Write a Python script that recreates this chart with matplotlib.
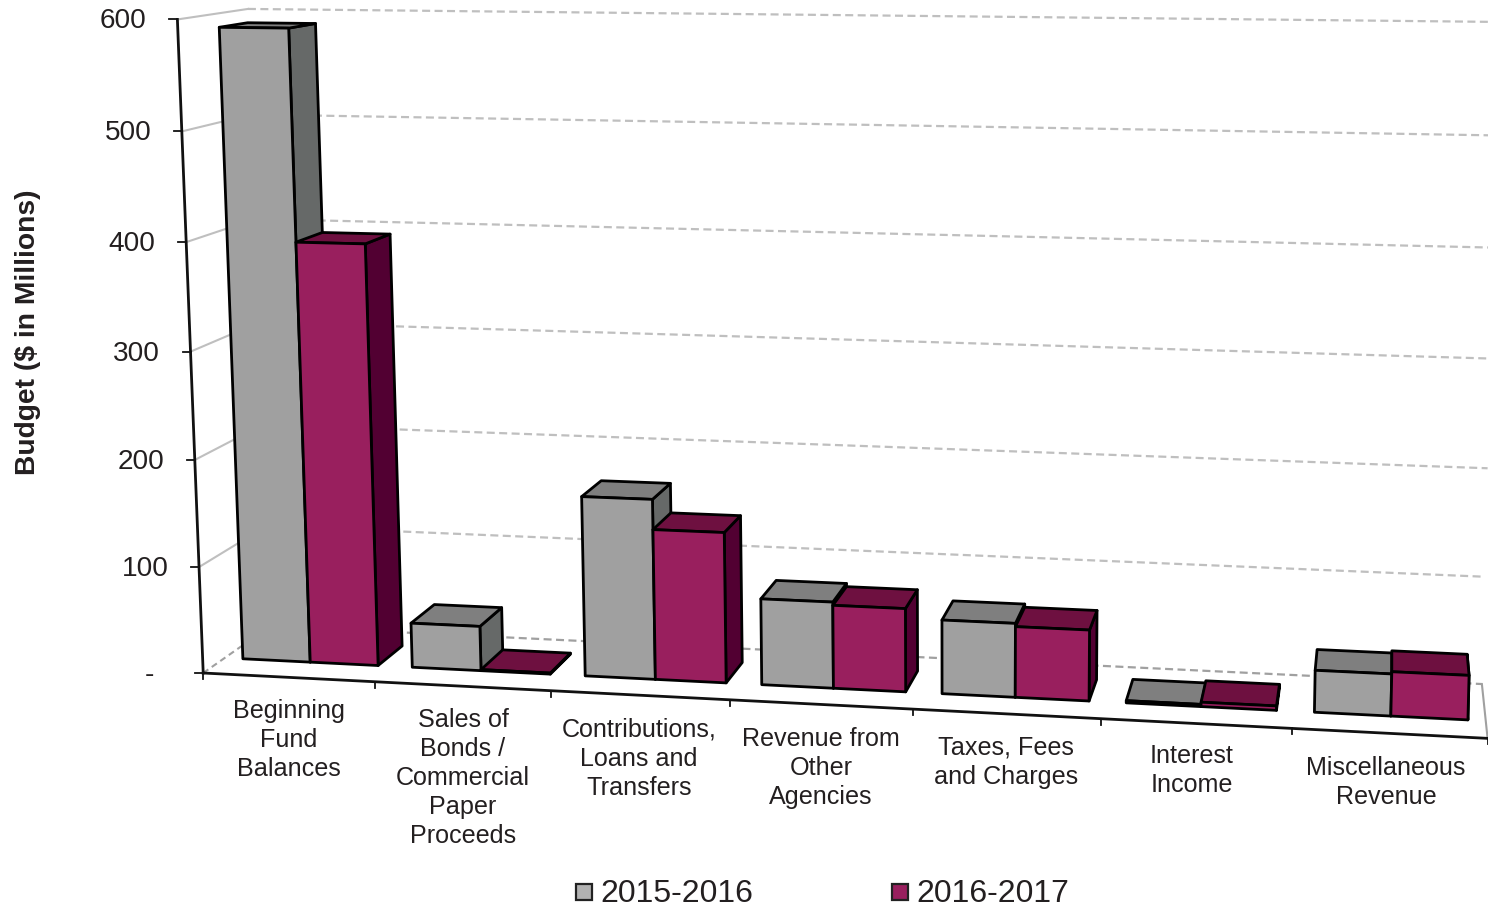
import matplotlib
matplotlib.use('Agg')
from matplotlib import pyplot as plt
from matplotlib.patches import Polygon, Rectangle
import numpy as np

plt.rcParams['font.family'] = ['Liberation Sans', 'DejaVu Sans']

categories = ['Beginning\nFund\nBalances', 'Sales of\nBonds /\nCommercial\nPaper\nProceeds',
              'Contributions,\nLoans and\nTransfers', 'Revenue from\nOther\nAgencies',
              'Taxes, Fees\nand Charges', 'Interest\nIncome', 'Miscellaneous\nRevenue']
series_names = ['2015-2016', '2016-2017']
values_2015 = [590, 42, 168, 80, 68, 2, 38]
values_2016 = [395, 1, 140, 77, 65, 4, 40]
y_ticks = [0, 100, 200, 300, 400, 500, 600]
y_tick_labels = ['-', '100', '200', '300', '400', '500', '600']

# (x category, value, depth) -> pixel, fitted to the chart frame
frame_points = [
    (0, 0, 0, 205, 672), (1, 0, 0, 376, 682), (2, 0, 0, 551, 691), (3, 0, 0, 730, 700),
    (4, 0, 0, 913, 710), (5, 0, 0, 1101, 719), (6, 0, 0, 1291, 729), (7, 0, 0, 1488, 738),
    (0, 100, 0, 199, 566), (0, 400, 0, 186, 242), (0, 500, 0, 181, 131), (0, 600, 0, 176, 20),
    (0, 0, 1, 268, 627), (7, 0, 1, 1482, 683), (0, 600, 1, 250, 9),
]


def fit_projection(points):
    rows, rhs = [], []
    for x, v, d, px, py in points:
        rows.append([x, v, d, 1, 0, 0, 0, 0, -px * x, -px * v, -px * d])
        rhs.append(px)
        rows.append([0, 0, 0, 0, x, v, d, 1, -py * x, -py * v, -py * d])
        rhs.append(py)
    sol = np.linalg.lstsq(np.array(rows, float), np.array(rhs, float), rcond=None)[0]
    return np.append(sol, 1).reshape(3, 4)


P = fit_projection(frame_points)


def project(x, v, d):
    out = P @ np.array([x, v, d, 1.0])
    return out[0] / out[2], out[1] / out[2]


fig = plt.figure(figsize=(14.88, 9.08), dpi=100)
ax = fig.add_axes([0, 0, 1, 1])
ax.set_xlim(0, 1488)
ax.set_ylim(908, 0)
ax.axis('off')

n = len(categories)
text_color = '#231f20'

# walls and gridlines
for v in y_ticks:
    a, b, c = project(0, v, 0), project(0, v, 1), project(n, v, 1)
    if v:
        ax.plot([a[0], b[0]], [a[1], b[1]], color='#bfbfbf', lw=1.5, zorder=1)
    else:
        ax.plot([a[0], b[0]], [a[1], b[1]], color='#a0a0a0', lw=1.5, dashes=(3, 2), zorder=1)
    ax.plot([b[0], c[0]], [b[1], c[1]], color='#bfbfbf' if v else '#a0a0a0', lw=1.6,
            dashes=(3.6, 2), zorder=1)
a, b = project(n, 0, 1), project(n, 0, 0)
ax.plot([a[0], b[0]], [a[1], b[1]], color='#a0a0a0', lw=1.5, zorder=1)

# bars
bar_width = 0.4
bar_offset = 0.108
depth_front = 0.31
depth_back = 0.72
faces = [('#a0a0a0', '#7f7f7f', '#666968'), ('#991f5e', '#6e1040', '#520032')]


def draw_bar(x0, x1, value, colors):
    front, top, side = colors
    kw = dict(edgecolor='black', lw=2.0, joinstyle='round', zorder=3)
    d0, d1 = depth_front, depth_back
    ax.add_patch(Polygon([project(x1, 0, d0), project(x1, 0, d1), project(x1, value, d1),
                          project(x1, value, d0)], facecolor=side, **kw))
    ax.add_patch(Polygon([project(x0, value, d0), project(x0, value, d1), project(x1, value, d1),
                          project(x1, value, d0)], facecolor=top, **kw))
    ax.add_patch(Polygon([project(x0, 0, d0), project(x1, 0, d0), project(x1, value, d0),
                          project(x0, value, d0)], facecolor=front, **kw))


for i in range(n):
    left = i + bar_offset
    draw_bar(left, left + bar_width, values_2015[i], faces[0])
    draw_bar(left + bar_width, left + 2 * bar_width, values_2016[i], faces[1])

# axes lines and ticks
a, b = project(0, 0, 0), project(0, 600, 0)
ax.plot([a[0], b[0]], [a[1], b[1]], color='#111111', lw=2.0, zorder=4)
a, b = project(0, 0, 0), project(n, 0, 0)
ax.plot([a[0], b[0]], [a[1], b[1]], color='#111111', lw=2.0, zorder=4)
for v, label in zip(y_ticks, y_tick_labels):
    px, py = project(0, v, 0)
    ax.plot([px - 8, px], [py, py], color='#111111', lw=1.3, zorder=4)
    ax.text(px - 54, py + 2, label, ha='center', va='center', fontsize=20.2, color=text_color)
for i in range(n + 1):
    px, py = project(i, 0, 0)
    ax.plot([px, px], [py, py + 6], color='#111111', lw=1.3, zorder=4)

label_centers = [(289, 711), (463, 720), (639, 730), (821, 739), (1006, 748), (1192, 756), (1386, 768)]
for name, (cx, cy) in zip(categories, label_centers):
    for j, line in enumerate(name.split('\n')):
        ax.text(cx, cy + 29 * j, line, ha='center', va='center', fontsize=18.1, color=text_color)

ax.text(28, 332, 'Budget ($ in Millions)', rotation=90, ha='center', va='center',
        fontsize=20.3, fontweight='bold', color=text_color)

# legend
for x0, y0, name, fill, tx in zip([576, 892], [884, 884], series_names, ['#b2b2b2', '#991f5e'], [600, 916]):
    ax.add_patch(Rectangle((x0, y0), 16, 16, facecolor=fill, edgecolor='#222222', lw=1.6))
    ax.text(tx, 894, name, ha='left', va='center', fontsize=23, color=text_color)

fig.savefig('out.png', dpi=100)
